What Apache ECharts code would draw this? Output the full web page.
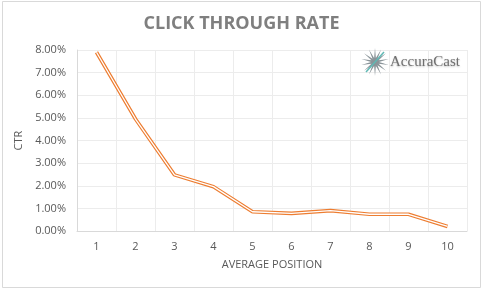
<!DOCTYPE html>
<html><head><meta charset="utf-8">
<script src="https://cdn.jsdelivr.net/npm/echarts@6/dist/echarts.min.js"></script>
<style>html,body{margin:0;padding:0;background:#fff}#c{width:483px;height:290px}</style>
</head><body><div id="c"></div>
<script>
var positions = ['1','2','3','4','5','6','7','8','9','10'];
var ctrPercent = [7.9, 4.95, 2.48, 1.96, 0.85, 0.78, 0.9, 0.74, 0.74, 0.2];
var yTicks = {min: 0, max: 8, interval: 1};

function starPoints(cx, cy, rOuter, rInner, n) {
  var pts = [];
  for (var i = 0; i < n * 2; i++) {
    var r = i % 2 === 0 ? rOuter : rInner;
    var a = Math.PI * i / n - Math.PI / 2;
    pts.push([cx + r * Math.cos(a), cy + r * Math.sin(a)]);
  }
  return pts;
}

var chart = echarts.init(document.getElementById('c'), null, {renderer: 'canvas'});
chart.setOption({
  animation: false,
  backgroundColor: '#fff',
  title: {
    text: 'CLICK THROUGH RATE',
    left: 'center', top: 10,
    textStyle: {fontFamily: 'Open Sans', fontWeight: 'bold', fontSize: 18, color: '#7f7f7f'}
  },
  grid: {left: 77, right: 16, top: 50, bottom: 59},
  xAxis: {
    type: 'category', data: positions, boundaryGap: true,
    name: 'AVERAGE POSITION', nameLocation: 'middle', nameGap: 28,
    nameTextStyle: {fontFamily: 'Open Sans', fontSize: 11, color: '#595959'},
    axisLine: {lineStyle: {color: '#d9d9d9'}},
    axisTick: {show: false},
    axisLabel: {fontFamily: 'Open Sans', fontSize: 11, color: '#595959', margin: 10},
    splitLine: {show: true, lineStyle: {color: '#ececec'}}
  },
  yAxis: {
    type: 'value', min: yTicks.min, max: yTicks.max, interval: yTicks.interval,
    name: 'CTR', nameLocation: 'middle', nameGap: 50,
    nameTextStyle: {fontFamily: 'Open Sans', fontSize: 11, color: '#595959'},
    axisLine: {show: true, lineStyle: {color: '#d9d9d9'}},
    axisTick: {show: false},
    axisLabel: {fontFamily: 'Open Sans', fontSize: 11, color: '#595959', margin: 11,
      formatter: function (v) { return v.toFixed(2) + '%'; }},
    splitLine: {show: true, lineStyle: {color: '#ececec'}}
  },
  series: [
    {type: 'line', data: ctrPercent, symbol: 'none', lineStyle: {color: '#ED7D31', width: 3.6}, z: 2},
    {type: 'line', data: ctrPercent, symbol: 'none', lineStyle: {color: '#ffffff', width: 1.3}, z: 3}
  ],
  graphic: [
    {type: 'rect', shape: {x: 2.5, y: 1.5, width: 478, height: 286}, style: {fill: 'none', stroke: '#d9d9d9', lineWidth: 1}, z: -1},
    {type: 'polygon', shape: {points: starPoints(375, 62, 14, 4, 14)}, style: {fill: '#8a9499'}, z: 10},
    {type: 'line', shape: {x1: 366, y1: 72, x2: 384, y2: 52}, style: {stroke: '#5fb8b4', lineWidth: 1.5}, z: 11},
    {type: 'text', x: 390, y: 62, style: {text: 'AccuraCast', fontFamily: 'Liberation Serif', fontSize: 15, fill: '#6f6f6f',
      verticalAlign: 'middle', textShadowColor: 'rgba(0,0,0,0.25)', textShadowBlur: 2, textShadowOffsetY: 1}, z: 10}
  ]
});
</script></body></html>
